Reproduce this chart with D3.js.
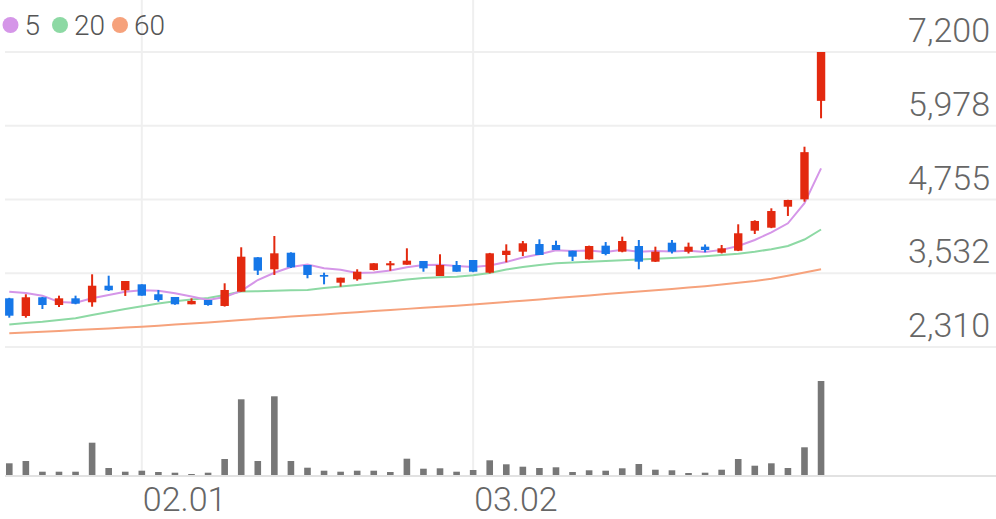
<!DOCTYPE html>
<html>
<head>
<meta charset="utf-8">
<script src="https://cdn.jsdelivr.net/npm/d3@7"></script>
<style>
  html, body { margin: 0; padding: 0; background: #fff; }
  svg { display: block; font-family: Roboto, "Noto Sans", sans-serif; }
</style>
</head>
<body>
<svg id="chart" width="996" height="519"></svg>
<script>
// ---- data ----
const dates = ["01.18","01.19","01.20","01.25","01.26","01.27","01.30","01.31",
  "02.01","02.02","02.03","02.06","02.07","02.08","02.09","02.10","02.13","02.14","02.15","02.16",
  "02.17","02.20","02.21","02.22","02.23","02.24","02.27","02.28",
  "03.02","03.03","03.06","03.07","03.08","03.09","03.10","03.13","03.14","03.15","03.16","03.17",
  "03.20","03.21","03.22","03.23","03.24","03.27","03.28","03.29","03.30","03.31"];
const openP  = [3117,2824,3134,3006,3117,3051,3326,3250,3349,3184,3139,3018,3089,2990,3227,3797,3598,3873,3669,3504,
  3376,3432,3586,3664,3674,3736,3487,3669,3752,3542,3835,3890,4017,4001,3906,3764,3990,3890,3984,3724,
  4039,3890,3973,3873,3906,4238,4288,4636,4758,6390];
const highP  = [3125,3184,3140,3161,3161,3515,3492,3404,3349,3255,3139,3117,3089,3366,3963,3800,4150,3880,3669,3542,
  3459,3598,3700,3736,3946,3736,3847,3736,3752,3870,4012,4067,4095,4072,3906,3990,4050,4139,4084,3973,
  4084,4040,4010,4001,4344,4410,4609,4750,5630,7200];
const lowP   = [2796,2796,2940,2973,3018,2978,3238,3156,3161,3061,3010,3018,2995,2980,3227,3504,3504,3620,3449,3349,
  3310,3409,3580,3574,3674,3558,3487,3558,3550,3530,3714,3818,3835,3918,3736,3760,3830,3880,3598,3720,
  3860,3860,3880,3860,3900,4183,4280,4482,4719,6101];
const closeP = [2829,3134,3006,3117,3028,3326,3250,3404,3161,3089,3018,3073,3006,3255,3807,3576,3863,3631,3504,3476,
  3459,3558,3698,3698,3741,3614,3669,3558,3558,3863,3906,4029,3835,3918,3807,3984,3852,4067,3724,3890,
  3890,3973,3918,3946,4195,4399,4564,4747,5540,7200];
const volume = [117,140,33,33,33,323,70,33,43,30,23,10,23,160,757,140,787,140,73,43,
  33,43,43,30,163,63,67,33,50,147,107,83,70,77,30,47,43,67,110,53,
  47,20,23,53,160,93,117,70,277,940];
const ma5  = [3227,3205,3161,3056,3044,3117,3172,3227,3250,3243,3200,3147,3089,3139,3240,3420,3540,3635,3678,3615,
  3590,3535,3545,3578,3633,3668,3672,3652,3635,3660,3720,3795,3848,3912,3902,3910,3885,3920,3890,3900,
  3893,3905,3885,3920,3984,4084,4210,4360,4693,5270];
const ma20 = [2683,2708,2729,2758,2786,2841,2890,2940,2985,3031,3068,3097,3122,3172,3230,3235,3243,3250,3255,3288,
  3313,3338,3366,3396,3429,3454,3465,3475,3499,3537,3595,3636,3669,3698,3711,3724,3736,3747,3760,3774,
  3785,3797,3813,3835,3857,3890,3930,3984,4092,4258];
const ma60 = [2537,2550,2564,2577,2590,2603,2618,2632,2647,2663,2681,2700,2718,2736,2758,2778,2796,2814,2832,2850,
  2869,2887,2905,2923,2942,2960,2978,2995,3013,3034,3056,3078,3099,3121,3142,3164,3187,3209,3230,3252,
  3273,3295,3318,3346,3374,3404,3441,3492,3545,3598];
const maPeriods = ["5","20","60"];
const maColors  = ["#d596e8","#8dd9a4","#f6a27c"];
const priceTicks  = [2310,3532,4755,5978,7200];
const priceLabels = ["2,310","3,532","4,755","5,978","7,200"];
const xTickLabels = ["02.01","03.02"];

// ---- layout ----
const W = 996, H = 519;
const slots = 60;
const svg = d3.select("#chart");
const x = d3.scaleBand().domain(d3.range(slots)).range([1, 995]).paddingInner(0);
const cx = i => x(i) + x.bandwidth() / 2;
const y = d3.scaleLinear().domain([2310, 7200]).range([347, 52]);
const yv = d3.scaleLinear().domain([0, d3.max(volume)]).range([475, 381]);

const gridColor = "#efefef";
const upColor = "#e3290f", downColor = "#1677e8";

// horizontal grid
svg.append("g").selectAll("line").data(priceTicks).join("line")
  .attr("x1", 5).attr("x2", W).attr("y1", d => y(d)).attr("y2", d => y(d))
  .attr("stroke", gridColor).attr("stroke-width", 2);

// vertical grid at month ticks
const tickIdx = xTickLabels.map(t => dates.indexOf(t));
svg.append("g").selectAll("line").data(tickIdx).join("line")
  .attr("x1", d => cx(d)).attr("x2", d => cx(d)).attr("y1", 0).attr("y2", 476)
  .attr("stroke", gridColor).attr("stroke-width", 2);

// bottom axis line
svg.append("line").attr("x1", 5).attr("x2", W).attr("y1", 476).attr("y2", 476)
  .attr("stroke", "#e2e2e2").attr("stroke-width", 2);

// price labels
svg.append("g").selectAll("text").data(priceTicks).join("text")
  .attr("x", 990).attr("y", d => y(d) - 10)
  .attr("text-anchor", "end").attr("font-size", 34).attr("font-weight", 300)
  .attr("fill", "#666").text((d, i) => priceLabels[i]);

// x labels
svg.append("g").selectAll("text").data(tickIdx).join("text")
  .attr("x", d => cx(d) + 1).attr("y", 511)
  .attr("text-anchor", "start").attr("font-size", 34).attr("font-weight", 300)
  .attr("fill", "#666").text((d, i) => xTickLabels[i]);

// volume bars
svg.append("g").selectAll("rect").data(volume).join("rect")
  .attr("x", (d, i) => cx(i) - 3.3).attr("width", 6.6)
  .attr("y", d => yv(d)).attr("height", d => yv(0) - yv(d))
  .attr("fill", "#777");

// MA lines
[ma60, ma20, ma5].forEach((arr, k) => {
  const col = maColors[2 - k];
  svg.append("path").datum(arr)
    .attr("d", d3.line().x((d, i) => cx(i)).y(d => y(d)))
    .attr("fill", "none").attr("stroke", col).attr("stroke-width", 2);
});

// candles
const idx = d3.range(dates.length);
const cg = svg.append("g");
cg.selectAll("line").data(idx).join("line")
  .attr("x1", i => cx(i)).attr("x2", i => cx(i))
  .attr("y1", i => y(highP[i])).attr("y2", i => y(lowP[i]))
  .attr("stroke", i => closeP[i] >= openP[i] ? upColor : downColor).attr("stroke-width", 2);
cg.selectAll("rect").data(idx).join("rect")
  .attr("x", i => cx(i) - 4.2).attr("width", 8.4)
  .attr("y", i => y(Math.max(openP[i], closeP[i])))
  .attr("height", i => Math.max(1.5, Math.abs(y(openP[i]) - y(closeP[i]))))
  .attr("fill", i => closeP[i] >= openP[i] ? upColor : downColor);

// legend
const lg = svg.append("g");
const legX = [10.5, 60, 120];
maPeriods.forEach((p, k) => {
  lg.append("circle").attr("cx", legX[k]).attr("cy", 25).attr("r", 8).attr("fill", maColors[k]);
  lg.append("text").attr("x", legX[k] + 14).attr("y", 35).attr("font-size", 28)
    .attr("font-weight", 300).attr("fill", "#555").text(p);
});
</script>
</body>
</html>
